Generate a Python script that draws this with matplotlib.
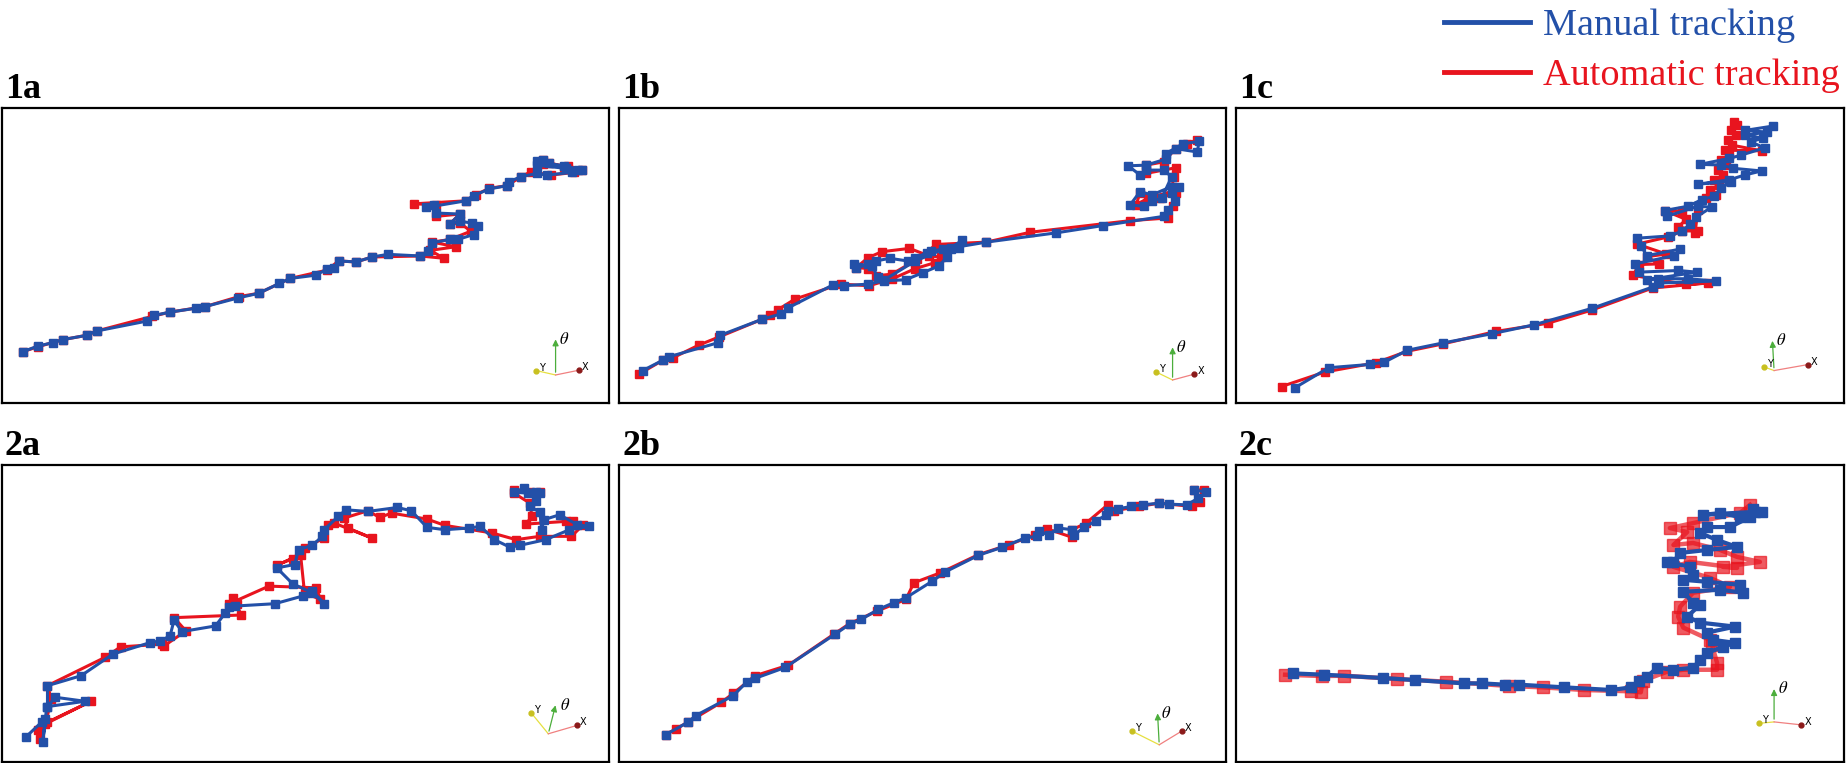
import matplotlib.pyplot as plt

plt.rcParams['font.family'] = ['Liberation Serif', 'DejaVu Serif']
plt.rcParams['mathtext.fontset'] = 'stix'

BLUE = "#2350a8"
RED = "#e8141e"

# trajectories (image units inside each panel box, y down)
m1a_x = [57, 95, 135, 160, 220, 245, 372, 390, 430, 497, 520, 603, 655, 708, 735, 800, 828, 845, 858, 902, 943, 983,
         1065, 1085, 1095, 1140, 1160, 1200, 1210, 1195, 1165, 1140, 1165, 1105, 1100, 1080, 1180, 1200, 1240, 1285,
         1290, 1320, 1360, 1385, 1450, 1465, 1435, 1360, 1360, 1375, 1390, 1430, 1475]
m1a_y = [885, 868, 857, 848, 835, 822, 792, 775, 765, 753, 748, 722, 708, 678, 663, 653, 635, 632, 610, 613, 598, 590,
         595, 580, 555, 545, 545, 530, 505, 495, 490, 498, 468, 465, 440, 448, 428, 412, 392, 382,
         370, 355, 345, 350, 342, 335, 330, 320, 308, 305, 315, 322, 335]
a1a_x = [57, 95, 160, 220, 245, 385, 430, 520, 605, 655, 735, 828, 858, 902, 943, 1065, 1125, 1090, 1155, 1095, 1140,
         1193, 1165, 1140, 1165, 1105, 1105, 1050, 1180, 1205, 1240, 1285, 1320, 1345, 1395, 1455, 1475, 1440, 1375,
         1375, 1390, 1430]
a1a_y = [885, 870, 848, 835, 822, 778, 765, 748, 718, 708, 663, 638, 610, 613, 598, 595, 602, 578, 567, 553, 545,
         520, 495, 498, 468, 475, 440, 437, 428, 410, 390, 382, 355, 340, 350, 342, 335, 322, 318,
         303, 312, 325]

m1b_x = [68, 120, 135, 258, 265, 370, 420, 437, 550, 580, 640, 680, 735, 780, 820, 840, 850, 870, 878, 850, 800, 790,
         760, 740, 695, 660, 640, 610, 605, 650, 665, 680, 760, 830, 940, 1117, 1235, 1390, 1400, 1418, 1412, 1430,
         1410, 1360, 1330, 1305, 1340, 1360, 1385, 1410, 1390, 1345, 1330, 1300, 1345, 1395, 1420, 1475, 1480, 1440,
         1395]
m1b_y = [942, 910, 900, 858, 835, 787, 770, 752, 683, 685, 680, 670, 667, 645, 625, 598, 575, 570, 548, 570, 580, 585,
         600, 610, 602, 610, 620, 632, 618, 625, 660, 668, 610, 575, 553, 525, 503, 475, 455, 430, 405, 385,
         385, 410, 400, 440, 445, 430, 420, 355, 335, 335, 350, 322, 320, 302, 270, 280, 248, 255,
         285]
a1b_x = [58, 120, 145, 210, 262, 370, 390, 412, 455, 570, 642, 700, 760, 810, 825, 795, 745, 675, 640, 610, 640, 660,
         700, 765, 813, 940, 1052, 1305, 1400, 1413, 1420, 1380, 1330, 1320, 1350, 1410, 1415, 1420, 1345, 1345,
         1390, 1420, 1450, 1475]
a1b_y = [953, 910, 903, 865, 840, 787, 775, 757, 725, 680, 685, 665, 633, 615, 598, 595, 572, 582, 600, 630, 633, 655,
         650, 605, 560, 553, 523, 488, 480, 445, 405, 420, 403, 440, 420, 400, 355, 328, 345, 320,
         310, 270, 255, 243]

m1c_x = [165, 250, 355, 392, 450, 540, 665, 772, 920, 1075, 1090, 1235, 1165, 1088, 1060, 1188, 1140, 1040, 1030, 1130,
         1145, 1060, 1045, 1035, 1120, 1150, 1170, 1185, 1225, 1190, 1112, 1105, 1165, 1200, 1230, 1250, 1275, 1190,
         1270, 1310, 1352, 1280, 1250, 1195, 1270, 1300, 1360, 1325, 1355, 1310, 1365, 1310, 1380]
m1c_y = [1175, 1115, 1105, 1098, 1062, 1040, 1012, 985, 935, 870, 858, 852, 845, 845, 848, 825, 820, 825, 800, 775,
         755, 775, 745, 722, 715, 700, 680, 658, 628, 625, 655, 638, 625, 605, 595, 570, 550, 558,
         545, 530, 518, 510, 500, 498, 480, 470, 448, 430, 418, 410, 400, 395, 382]
a1c_x = [130, 240, 370, 450, 540, 675, 808, 920, 1075, 1215, 1160, 1025, 1040, 1090, 1060, 1110, 1035, 1115, 1150,
         1190, 1140, 1160, 1105, 1150, 1183, 1190, 1210, 1235, 1220, 1245, 1232, 1255, 1240, 1262, 1250, 1270, 1258,
         1353, 1278, 1266, 1286, 1275, 1290, 1282]
a1c_y = [1172, 1128, 1100, 1065, 1043, 1005, 980, 940, 873, 858, 862, 835, 802, 800, 778, 770, 740, 718, 700,
         700, 688, 665, 638, 640, 705, 635, 600, 590, 575, 560, 545, 530, 515, 500, 485, 470, 455,
         457, 440, 425, 410, 395, 380, 368]

m2a_x = [65, 105, 115, 108, 118, 140, 215, 120, 120, 205, 285, 380, 405, 430, 440, 460, 545, 570, 580, 595, 695, 765,
         790, 820, 790, 740, 700, 745, 755, 790, 815, 820, 855, 875, 930, 1005, 1040, 1080, 1125, 1185, 1215, 1250,
         1290, 1315, 1380, 1440, 1490, 1460, 1415, 1375, 1370, 1365, 1340, 1355, 1365, 1335, 1300, 1325, 1355]
m2a_y = [950, 905, 895, 965, 860, 830, 842, 858, 795, 765, 700, 665, 660, 645, 598, 632, 615, 575, 558, 555, 548, 525,
         510, 548, 515, 488, 440, 430, 385, 372, 345, 325, 285, 265, 270, 258, 268, 318, 325, 320, 315, 355,
         378, 372, 355, 325, 315, 310, 280, 295, 325, 272, 255, 238, 215, 215, 212, 200, 210]
a2a_x = [100, 95, 120, 230, 115, 130, 120, 265, 305, 410, 415, 470, 440, 610, 590, 600, 580, 680, 800, 810, 770, 760,
         700, 740, 770, 820, 830, 845, 940, 880, 870, 930, 960, 990, 1080, 1125, 1245, 1305, 1365, 1445, 1475, 1450,
         1430, 1330, 1345, 1340, 1300, 1300, 1340, 1365]
a2a_y = [955, 930, 905, 842, 910, 835, 795, 710, 678, 670, 675, 630, 590, 582, 530, 550, 548, 495, 500, 535, 515, 400,
         432, 412, 380, 350, 310, 305, 350, 320, 290, 268, 288, 275, 293, 312, 335, 355, 345, 345, 310, 300,
         300, 308, 285, 245, 215, 205, 210, 210]

m2b_x = [128, 185, 205, 300, 335, 355, 432, 558, 595, 625, 668, 707, 738, 805, 838, 922, 982, 1040, 1070, 1075, 1100,
         1125, 1160, 1165, 1190, 1220, 1245, 1250, 1275, 1310, 1340, 1380, 1405, 1450, 1480, 1500, 1470]
m2b_y = [943, 905, 885, 825, 783, 773, 740, 640, 610, 595, 565, 545, 530, 480, 452, 402, 378, 350, 345, 330, 340,
         320, 325, 340, 318, 298, 282, 268, 262, 255, 250, 245, 248, 250, 230, 212, 205]
a2b_x = [128, 155, 185, 270, 300, 355, 440, 555, 595, 665, 738, 758, 825, 922, 1000, 1065, 1095, 1160, 1160, 1195,
         1250, 1265, 1330, 1380, 1465, 1485, 1470, 1495]
a2b_y = [943, 925, 905, 845, 818, 765, 733, 640, 608, 570, 535, 485, 455, 400, 370, 340, 322, 348, 325, 305,
         250, 268, 255, 245, 255, 240, 205, 205]

m2c_x = [160, 240, 390, 470, 595, 640, 700, 735, 850, 970, 1020, 1040, 1061, 1086, 1128, 1178, 1196, 1214, 1254, 1285,
         1229, 1214, 1285, 1196, 1163, 1196, 1178, 1153, 1247, 1305, 1298, 1214, 1153, 1178, 1170, 1112, 1128, 1145,
         1214, 1290, 1239, 1196, 1214, 1272, 1323, 1298, 1247, 1203, 1336, 1354, 1330]
m2c_y = [758, 762, 772, 778, 788, 788, 792, 792, 800, 808, 800, 782, 768, 741, 747, 741, 717, 696, 678, 666,
         657, 635, 617, 605, 587, 551, 545, 512, 506, 515, 491, 482, 476, 461, 437, 422, 422, 395,
         386, 377, 356, 335, 317, 317, 287, 287, 275, 280, 271, 271, 262]
a2c_x = [140, 235, 290, 425, 550, 710, 795, 900, 1020, 1045, 1050, 1112, 1153, 1239, 1239, 1226, 1221, 1153, 1140,
         1145, 1178, 1272, 1221, 1128, 1170, 1290, 1254, 1348, 1290, 1247, 1178, 1128, 1163, 1119, 1178, 1298, 1323]
a2c_y = [762, 766, 765, 775, 783, 796, 800, 808, 812, 815, 780, 753, 747, 747, 726, 672, 657, 620, 587,
         557, 515, 497, 470, 437, 422, 440, 437, 422, 407, 386, 365, 371, 332, 320, 305, 274, 250]

labels = ["1a", "1b", "1c", "2a", "2b", "2c"]
manual = [(m1a_x, m1a_y), (m1b_x, m1b_y), (m1c_x, m1c_y), (m2a_x, m2a_y), (m2b_x, m2b_y), (m2c_x, m2c_y)]
auto = [(a1a_x, a1a_y), (a1b_x, a1b_y), (a1c_x, a1c_y), (a2a_x, a2a_y), (a2b_x, a2b_y), (a2c_x, a2c_y)]

# box extents in the same image units
frames = [(5, 1543, 147, 1040), (8, 1548, 147, 1040), (14, 1562, 327, 1222),
          (5, 1540, 130, 1025), (10, 1550, 130, 1025), (15, 1562, 130, 1025)]

# small axis triad per panel: origin, theta, Y, X (axes fraction)
triads = [
    ((0.912, 0.095), (0.0, 0.13), (-0.032, 0.015), (0.038, 0.016)),
    ((0.912, 0.078), (0.0, 0.12), (-0.028, 0.028), (0.036, 0.020)),
    ((0.885, 0.11), (-0.003, 0.11), (-0.016, 0.012), (0.055, 0.020)),
    ((0.900, 0.095), (0.013, 0.105), (-0.028, 0.07), (0.047, 0.028)),
    ((0.890, 0.058), (-0.003, 0.115), (-0.045, 0.046), (0.037, 0.046)),
    ((0.885, 0.135), (0.0, 0.12), (-0.025, -0.005), (0.045, -0.010)),
]

fig = plt.figure(figsize=(18.46, 7.63), dpi=100)
W, H = 1846, 763
boxes = [(2, 108, 607, 295), (619, 108, 607, 295), (1236, 108, 608, 295),
         (2, 465, 607, 297), (619, 465, 607, 297), (1236, 465, 608, 297)]

for i, (bx, by, bw, bh) in enumerate(boxes):
    ax = fig.add_axes([bx / W, 1 - (by + bh) / H, bw / W, bh / H])
    x0, x1, y0, y1 = frames[i]
    big = (i == 5)
    if big:
        ax.plot(*auto[i], color=RED, lw=3.2, marker="s", ms=8.5, alpha=0.7, zorder=2)
        ax.plot(*manual[i], color=BLUE, lw=3.0, marker="s", ms=7.5, zorder=3)
    else:
        ax.plot(*auto[i], color=RED, lw=2.2, marker="s", ms=5.5, zorder=2)
        ax.plot(*manual[i], color=BLUE, lw=2.2, marker="s", ms=5.5, zorder=3)
    ax.set_xlim(x0, x1)
    ax.set_ylim(y1, y0)
    ax.set_xticks([])
    ax.set_yticks([])
    for s in ax.spines.values():
        s.set_linewidth(1.6)
        s.set_color("black")

    (ox, oy), th, yv, xv = triads[i]
    ax.annotate("", xy=(ox + th[0], oy + th[1]), xytext=(ox, oy), xycoords="axes fraction",
                arrowprops=dict(arrowstyle="-|>", color="#4cae3c", lw=0.9, mutation_scale=9))
    ax.plot([ox, ox + yv[0]], [oy, oy + yv[1]], color="#e6e040", lw=0.9, transform=ax.transAxes)
    ax.plot([ox + yv[0]], [oy + yv[1]], "o", color="#c8c020", ms=3.5, transform=ax.transAxes)
    ax.plot([ox, ox + xv[0]], [oy, oy + xv[1]], color="#f08080", lw=0.9, transform=ax.transAxes)
    ax.plot([ox + xv[0]], [oy + xv[1]], "o", color="#8b1a1a", ms=3.5, transform=ax.transAxes)
    ax.text(ox + th[0] + 0.006, oy + th[1] - 0.01, r"$\theta$", transform=ax.transAxes,
            fontsize=12, ha="left", va="center")
    ax.text(ox + yv[0] + 0.005, oy + yv[1] + 0.01, "Y", transform=ax.transAxes,
            fontsize=7, family="DejaVu Sans", ha="left", va="center")
    ax.text(ox + xv[0] + 0.005, oy + xv[1] + 0.01, "X", transform=ax.transAxes,
            fontsize=7, family="DejaVu Sans", ha="left", va="center")

    fig.text((bx + 3) / W, 1 - (by - 10) / H, labels[i], fontsize=26, fontweight="bold",
             ha="left", va="baseline")

# legend drawn at top right
leg_y = [26, 76]
leg_names = ["Manual tracking", "Automatic tracking"]
leg_cols = [BLUE, RED]
for yy, name, col in zip(leg_y, leg_names, leg_cols):
    fig.add_artist(plt.Line2D([1444 / W, 1530 / W], [1 - (yy - 4) / H, 1 - (yy - 4) / H], color=col, lw=3.5))
    fig.text(1543 / W, 1 - yy / H, name, color=col, fontsize=27.5, ha="left", va="center")

fig.savefig("out.png", dpi=100)
